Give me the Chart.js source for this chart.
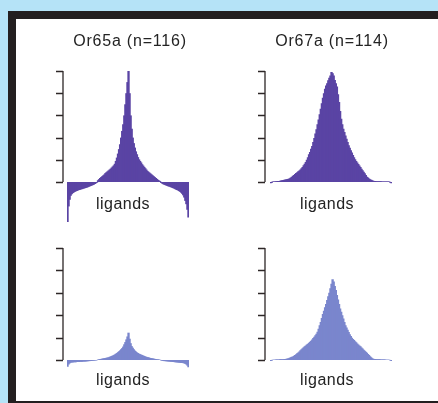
<!DOCTYPE html>
<html>
<head>
<meta charset="utf-8">
<script src="https://cdn.jsdelivr.net/npm/chart.js@4"></script>
<style>
  html, body { margin: 0; padding: 0; }
  body { width: 438px; height: 403px; background: #b5e3f7; position: relative; overflow: hidden; }
  #frame { position: absolute; left: 8px; top: 11px; width: 430px; height: 392px; background: #231f20; }
  #sheet { position: absolute; left: 16px; top: 19px; width: 422px; height: 382px; background: #fff; }
  canvas { position: absolute; left: 0; top: 0; }
</style>
</head>
<body>
<div id="frame"></div>
<div id="sheet"></div>
<canvas id="c1" width="438" height="403"></canvas>
<canvas id="c2" width="438" height="403"></canvas>
<canvas id="c3" width="438" height="403"></canvas>
<canvas id="c4" width="438" height="403"></canvas>
<script>
// sorted responses per ligand, strongest in the middle
const or65aTop = [
  -1.8, -1.1, -0.8, -0.62, -0.55, -0.5, -0.47, -0.44, -0.42, -0.4,
  -0.38, -0.36, -0.35, -0.33, -0.32, -0.3, -0.29, -0.27, -0.26, -0.24,
  -0.22, -0.2, -0.18, -0.16, -0.14, -0.12, -0.09, -0.06, -0.03, 0.08,
  0.13, 0.18, 0.22, 0.26, 0.3, 0.34, 0.4, 0.44, 0.48, 0.52,
  0.56, 0.6, 0.65, 0.7, 0.75, 0.82, 0.95, 1.1, 1.28, 1.48,
  1.7, 2.0, 2.3, 2.6, 3.0, 3.5, 4.0, 4.5, 5.0, 4.0,
  3.0, 2.4, 2.0, 1.75, 1.55, 1.38, 1.25, 1.12, 1.02, 0.95,
  0.88, 0.8, 0.74, 0.68, 0.62, 0.56, 0.5, 0.46, 0.42, 0.38,
  0.34, 0.3, 0.26, 0.22, 0.18, 0.14, 0.1, 0.07, 0.04, -0.04,
  -0.07, -0.1, -0.12, -0.14, -0.16, -0.18, -0.2, -0.21, -0.23, -0.25,
  -0.27, -0.29, -0.31, -0.34, -0.36, -0.38, -0.41, -0.44, -0.48, -0.53,
  -0.6, -0.7, -0.85, -1.0, -1.25, -1.6
];
const or67aTop = [
  -0.06, -0.04, 0.02, 0.02, 0.02, 0.03, 0.03, 0.04, 0.05, 0.06,
  0.07, 0.08, 0.09, 0.1, 0.11, 0.12, 0.13, 0.15, 0.17, 0.2,
  0.24, 0.28, 0.32, 0.36, 0.4, 0.44, 0.48, 0.52, 0.56, 0.62,
  0.68, 0.75, 0.82, 0.9, 1.0, 1.12, 1.25, 1.35, 1.5, 1.62,
  1.8, 1.98, 2.18, 2.38, 2.6, 2.82, 3.05, 3.3, 3.55, 3.8,
  4.0, 4.2, 4.35, 4.45, 4.58, 4.7, 4.8, 4.95, 4.9, 4.8,
  4.6, 4.45, 4.3, 3.95, 3.6, 3.2, 2.85, 2.6, 2.4, 2.25,
  2.1, 1.95, 1.8, 1.66, 1.54, 1.43, 1.33, 1.22, 1.12, 1.03,
  0.95, 0.88, 0.81, 0.74, 0.68, 0.6, 0.53, 0.46, 0.39, 0.32,
  0.24, 0.2, 0.16, 0.12, 0.1, 0.08, 0.06, 0.05, 0.04, 0.03,
  0.03, 0.03, 0.03, 0.03, 0.02, 0.02, 0.02, 0.02, 0.02, 0.02,
  0.02, 0.02, -0.03, -0.06
];
const or65aBottom = [
  -0.3, -0.2, -0.15, -0.12, -0.11, -0.11, -0.1, -0.1, -0.1, -0.09,
  -0.09, -0.09, -0.08, -0.08, -0.08, -0.07, -0.07, -0.07, -0.06, -0.06,
  -0.05, -0.05, -0.04, -0.04, -0.03, -0.03, -0.02, -0.02, -0.01, 0.02,
  0.03, 0.04, 0.05, 0.06, 0.07, 0.08, 0.09, 0.1, 0.11, 0.12,
  0.14, 0.16, 0.18, 0.2, 0.22, 0.25, 0.28, 0.31, 0.35, 0.39,
  0.43, 0.48, 0.53, 0.6, 0.7, 0.8, 0.92, 1.05, 1.22, 0.95,
  0.75, 0.62, 0.55, 0.48, 0.42, 0.38, 0.34, 0.31, 0.28, 0.26,
  0.24, 0.22, 0.2, 0.18, 0.16, 0.14, 0.13, 0.12, 0.1, 0.09,
  0.08, 0.07, 0.06, 0.05, 0.04, 0.03, 0.03, 0.02, 0.01, -0.02,
  -0.03, -0.04, -0.05, -0.05, -0.06, -0.06, -0.07, -0.07, -0.08, -0.08,
  -0.09, -0.09, -0.1, -0.1, -0.11, -0.11, -0.12, -0.12, -0.13, -0.13,
  -0.14, -0.15, -0.17, -0.2, -0.25, -0.32
];
const or67aBottom = [
  -0.05, -0.03, 0.01, 0.01, 0.01, 0.02, 0.02, 0.02, 0.02, 0.03,
  0.03, 0.03, 0.03, 0.04, 0.05, 0.06, 0.07, 0.08, 0.1, 0.12,
  0.14, 0.16, 0.19, 0.22, 0.26, 0.3, 0.34, 0.38, 0.43, 0.48,
  0.53, 0.57, 0.61, 0.65, 0.69, 0.73, 0.77, 0.81, 0.86, 0.92,
  0.98, 1.04, 1.1, 1.17, 1.26, 1.4, 1.55, 1.7, 1.88, 2.05,
  2.2, 2.35, 2.5, 2.68, 2.85, 3.0, 3.2, 3.4, 3.6, 3.5,
  3.3, 3.12, 2.9, 2.7, 2.5, 2.3, 2.15, 2.0, 1.85, 1.7,
  1.55, 1.45, 1.35, 1.25, 1.15, 1.07, 0.99, 0.94, 0.89, 0.84,
  0.79, 0.74, 0.69, 0.65, 0.61, 0.56, 0.51, 0.46, 0.41, 0.37,
  0.32, 0.27, 0.22, 0.17, 0.12, 0.08, 0.06, 0.05, 0.04, 0.03,
  0.03, 0.03, 0.03, 0.02, 0.02, 0.02, 0.02, 0.02, 0.01, 0.01,
  0.01, 0.01, -0.02, -0.04
];
const yTicks = [0, 1, 2, 3, 4, 5];
const titles = ['Or65a (n=116)', 'Or67a (n=114)'];
const xLabel = 'ligands';

const darkPurple = '#5a44a4';
const lightPurple = '#7a86cd';

// draws the short y axis (0..max only), the x label and the column title
const panelDecor = {
  id: 'panelDecor',
  afterDraw(chart, args, opts) {
    const ctx = chart.ctx;
    const y = chart.scales.y;
    const ax = chart.chartArea.left - opts.gap;
    const zero = y.getPixelForValue(0);
    ctx.save();
    ctx.strokeStyle = '#2d2727';
    ctx.lineWidth = 1.3;
    ctx.beginPath();
    ctx.moveTo(ax, y.getPixelForValue(yTicks[yTicks.length - 1]));
    ctx.lineTo(ax, zero);
    yTicks.forEach(t => {
      const py = Math.round(y.getPixelForValue(t)) + 0.5;
      ctx.moveTo(ax - 7, py);
      ctx.lineTo(ax, py);
    });
    ctx.stroke();

    ctx.fillStyle = '#232323';
    ctx.font = '16px "Liberation Sans", Arial, sans-serif';
    ctx.textAlign = 'center';
    ctx.textBaseline = 'alphabetic';
    ctx.letterSpacing = '0.5px';
    ctx.fillText(xLabel, opts.labelX, zero + opts.labelOffset);
    if (opts.title) {
      ctx.letterSpacing = '0.8px';
      ctx.fillText(opts.title, opts.titleX, y.getPixelForValue(5) - 25);
    }
    ctx.restore();
  }
};

function makePanel(id, values, color, box) {
  const unit = (box.zero - box.top) / 5;
  const bottomPx = box.zero - box.min * unit;
  const labels = values.map((v, i) => i + 1);
  return new Chart(document.getElementById(id), {
    type: 'bar',
    data: {
      labels: labels,
      datasets: [{
        data: values,
        backgroundColor: color,
        borderWidth: 0,
        inflateAmount: 0,
        barPercentage: 2.2,   // overlap neighbours so no pale seams show
        categoryPercentage: 1
      }]
    },
    options: {
      responsive: false,
      animation: false,
      devicePixelRatio: 1,
      layout: {
        padding: { left: box.left, right: 438 - box.right, top: box.top, bottom: 403 - bottomPx }
      },
      scales: {
        x: { display: false, offset: true },
        y: { display: false, min: box.min, max: 5 }
      },
      plugins: {
        legend: { display: false },
        tooltip: { enabled: false },
        panelDecor: box.decor
      }
    },
    plugins: [panelDecor]
  });
}

makePanel('c1', or65aTop, darkPurple, {
  left: 67, right: 189, top: 71, zero: 182, min: -1.8,
  decor: { gap: 4, labelX: 123, labelOffset: 27, title: titles[0], titleX: 130 }
});
makePanel('c2', or67aTop, darkPurple, {
  left: 270, right: 392, top: 71, zero: 182, min: -0.3,
  decor: { gap: 5, labelX: 327, labelOffset: 27, title: titles[1], titleX: 332 }
});
makePanel('c3', or65aBottom, lightPurple, {
  left: 67, right: 189, top: 248, zero: 360, min: -0.4,
  decor: { gap: 4, labelX: 123, labelOffset: 25 }
});
makePanel('c4', or67aBottom, lightPurple, {
  left: 270, right: 392, top: 248, zero: 360, min: -0.3,
  decor: { gap: 5, labelX: 327, labelOffset: 25 }
});
</script>
</body>
</html>
